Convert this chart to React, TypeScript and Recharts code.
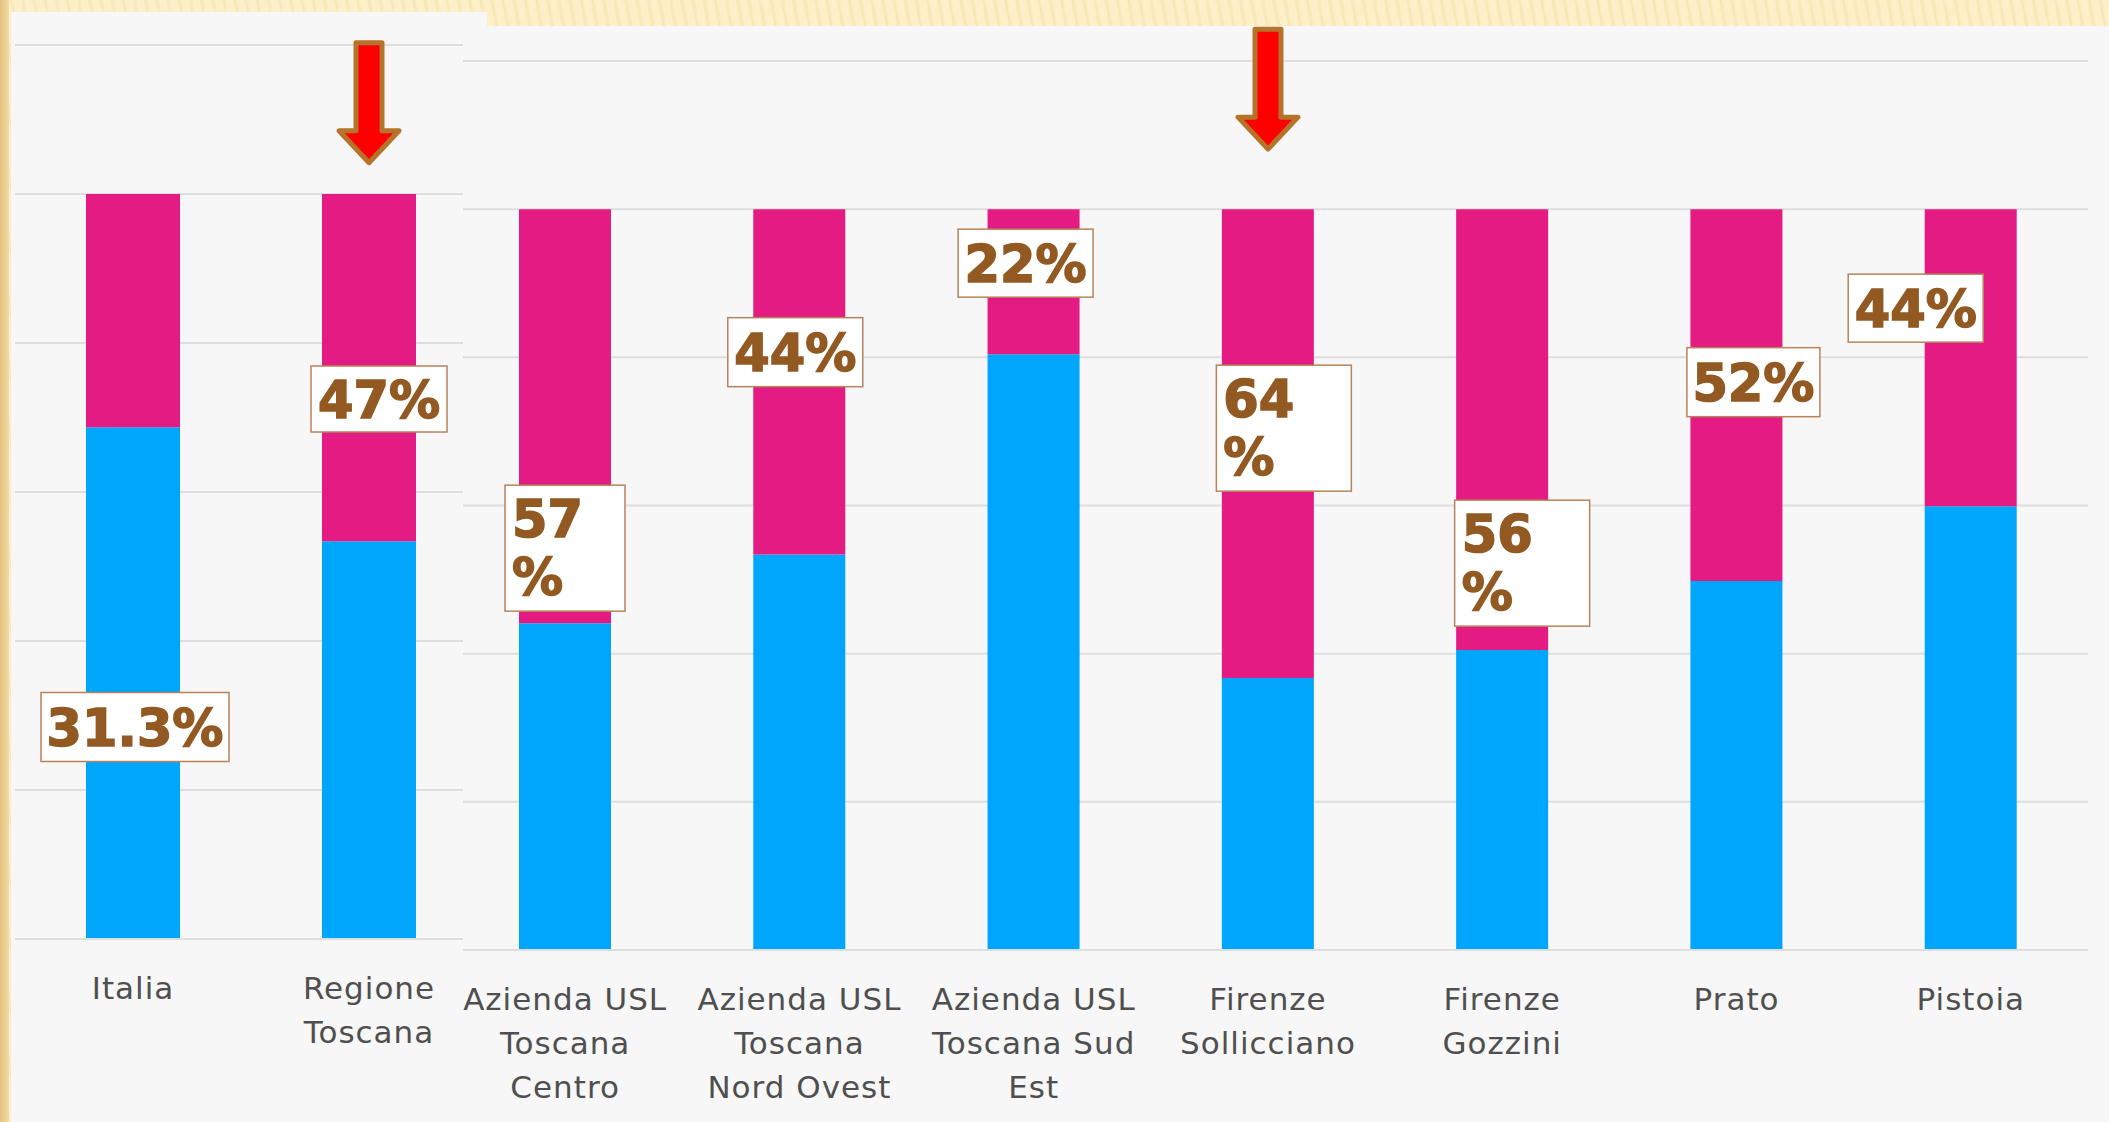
import React from 'react';
import {
  BarChart,
  Bar,
  XAxis,
  YAxis,
  CartesianGrid,
  LabelList,
  ReferenceDot
} from 'recharts';

// left panel: national / regional comparison
const leftCategories = ['Italia', 'Regione\nToscana'];
const leftBlue = [68.7, 53.4];
const leftPink = [31.3, 46.6];
const leftLabels = ['31.3%', '47%'];

// right panel: local health units and prisons
const rightCategories = [
  'Azienda USL\nToscana\nCentro',
  'Azienda USL\nToscana\nNord Ovest',
  'Azienda USL\nToscana Sud\nEst',
  'Firenze\nSollicciano',
  'Firenze\nGozzini',
  'Prato',
  'Pistoia'
];
const rightBlue = [44.1, 53.4, 80.4, 36.7, 40.5, 49.8, 59.9];
const rightPink = [55.9, 46.6, 19.6, 63.3, 59.5, 50.2, 40.1];
const rightLabels = ['57%', '44%', '22%', '64%', '56%', '52%', '44%'];

const yTicks = [0, 20, 40, 60, 80, 100, 120];

// arrows point at these categories
const leftArrow = { category: 'Regione\nToscana', tip: 104.2 };
const rightArrow = { category: 'Firenze\nSollicciano', tip: 108.1 };

// where each callout box sits relative to its bar (pixels)
const leftBoxes = [
  { dx: 2, dy: 533, w: 188, h: 69, wrap: false },
  { dx: 10, dy: 205, w: 136, h: 66, wrap: false }
];
const rightBoxes = [
  { dx: 0, dy: 339, w: 120, h: 126, wrap: true },
  { dx: -4, dy: 143, w: 135, h: 69, wrap: false },
  { dx: -8, dy: 54, w: 135, h: 68, wrap: false },
  { dx: 16, dy: 219, w: 135, h: 126, wrap: true },
  { dx: 20, dy: 354, w: 135, h: 126, wrap: true },
  { dx: 17, dy: 173, w: 133, h: 69, wrap: false },
  { dx: -55, dy: 99, w: 135, h: 68, wrap: false }
];

const BLUE = '#00a6fc';
const PINK = '#e31b83';
const GRID = '#dedede';
const LABEL_COLOR = '#925a22';
const FONT = '"DejaVu Sans", sans-serif';

const leftData = leftCategories.map((name, i) => ({
  name,
  blue: leftBlue[i],
  pink: leftPink[i],
  label: leftLabels[i]
}));

const rightData = rightCategories.map((name, i) => ({
  name,
  blue: rightBlue[i],
  pink: rightPink[i],
  label: rightLabels[i]
}));

const CategoryTick = (props: any) => {
  const { x, y, payload } = props;
  const lines = String(payload.value).split('\n');
  return (
    <text
      x={x}
      y={y + 60}
      textAnchor="middle"
      fill="#4f4f4f"
      fontFamily={FONT}
      fontSize={31}
      letterSpacing={1}
    >
      {lines.map((l, i) => (
        <tspan key={i} x={x} dy={i === 0 ? 0 : 44}>
          {l}
        </tspan>
      ))}
    </text>
  );
};

const makeBox = (labels: string[], boxes: any[]) => (props: any) => {
  const { x, y, width, index } = props;
  const b = boxes[index];
  const text = labels[index];
  if (!b) return null;
  const cx = x + width / 2 + b.dx;
  const cy = y + b.dy;
  const left = cx - b.w / 2;
  const top = cy - b.h / 2;
  const textStyle = {
    fill: LABEL_COLOR,
    stroke: LABEL_COLOR,
    strokeWidth: 1.6,
    fontFamily: FONT,
    fontWeight: 'bold' as const,
    fontSize: 51
  };
  return (
    <g>
      <rect x={left} y={top} width={b.w} height={b.h} fill="#ffffff" stroke="#b8835a" strokeWidth={1.5} />
      {b.wrap ? (
        <text x={left + 7} y={top + 52} style={textStyle}>
          <tspan x={left + 7}>{text.replace('%', '')}</tspan>
          <tspan x={left + 7} dy={58}>%</tspan>
        </text>
      ) : (
        <text x={cx} y={cy + 18.5} textAnchor="middle" style={textStyle}>
          {text}
        </text>
      )}
    </g>
  );
};

const Arrow = (props: any) => {
  const { cx, cy } = props;
  const d = `M ${cx} ${cy} L ${cx - 30} ${cy - 32} L ${cx - 13} ${cy - 32} L ${cx - 13} ${cy - 120} L ${cx + 13} ${cy - 120} L ${cx + 13} ${cy - 32} L ${cx + 30} ${cy - 32} Z`;
  return <path d={d} fill="#ff0000" stroke="#b5742a" strokeWidth={5} strokeLinejoin="round" />;
};

const App: React.FC = () => {
  return (
    <div
      style={{
        position: 'absolute',
        left: 0,
        top: 0,
        width: 2109,
        height: 1122,
        overflow: 'hidden',
        background:
          'repeating-linear-gradient(80deg, #fdf0c8 0px, #fdf0c8 6px, #f8e6b4 8px, #fdf0c8 11px)'
      }}
    >
      <div
        style={{
          position: 'absolute',
          left: 0,
          top: 0,
          width: 9,
          height: 1122,
          background: 'linear-gradient(90deg, #e4c27e, #f3dca4)'
        }}
      />
      <div style={{ position: 'absolute', left: 11, top: 12, width: 476, height: 1110, background: '#f7f7f7' }}>
        <BarChart width={476} height={1110} data={leftData} margin={{ top: 33, right: 0, left: 4, bottom: 0 }}>
          <CartesianGrid vertical={false} stroke={GRID} strokeWidth={2} />
          <YAxis hide domain={[0, 120]} ticks={yTicks} />
          <XAxis
            dataKey="name"
            height={183}
            interval={0}
            tickLine={false}
            tickSize={0}
            tickMargin={0}
            axisLine={{ stroke: GRID, strokeWidth: 2 }}
            tick={<CategoryTick />}
          />
          <Bar dataKey="blue" stackId="a" fill={BLUE} barSize={94} isAnimationActive={false} />
          <Bar dataKey="pink" stackId="a" fill={PINK} barSize={94} isAnimationActive={false}>
            <LabelList dataKey="label" content={makeBox(leftLabels, leftBoxes)} />
          </Bar>
          <ReferenceDot
            x={leftArrow.category}
            y={leftArrow.tip}
            r={1}
            ifOverflow="visible"
            shape={<Arrow />}
          />
        </BarChart>
      </div>
      <div
        style={{
          position: 'absolute',
          left: 463,
          top: 26,
          width: 1646,
          height: 1096,
          background: '#f7f7f7',
          overflow: 'hidden'
        }}
      >
        <div style={{ position: 'absolute', left: -15, top: 0 }}>
          <BarChart width={1661} height={1096} data={rightData} margin={{ top: 35, right: 21, left: 0, bottom: 0 }}>
            <CartesianGrid vertical={false} stroke={GRID} strokeWidth={2} />
            <YAxis hide domain={[0, 120]} ticks={yTicks} />
            <XAxis
              dataKey="name"
              height={172}
              interval={0}
              tickLine={false}
              tickSize={0}
              tickMargin={0}
              axisLine={{ stroke: GRID, strokeWidth: 2 }}
              tick={<CategoryTick />}
            />
            <Bar dataKey="blue" stackId="a" fill={BLUE} barSize={92} isAnimationActive={false} />
            <Bar dataKey="pink" stackId="a" fill={PINK} barSize={92} isAnimationActive={false}>
              <LabelList dataKey="label" content={makeBox(rightLabels, rightBoxes)} />
            </Bar>
            <ReferenceDot
              x={rightArrow.category}
              y={rightArrow.tip}
              r={1}
              ifOverflow="visible"
              shape={<Arrow />}
            />
          </BarChart>
        </div>
      </div>
    </div>
  );
};

export default App;
